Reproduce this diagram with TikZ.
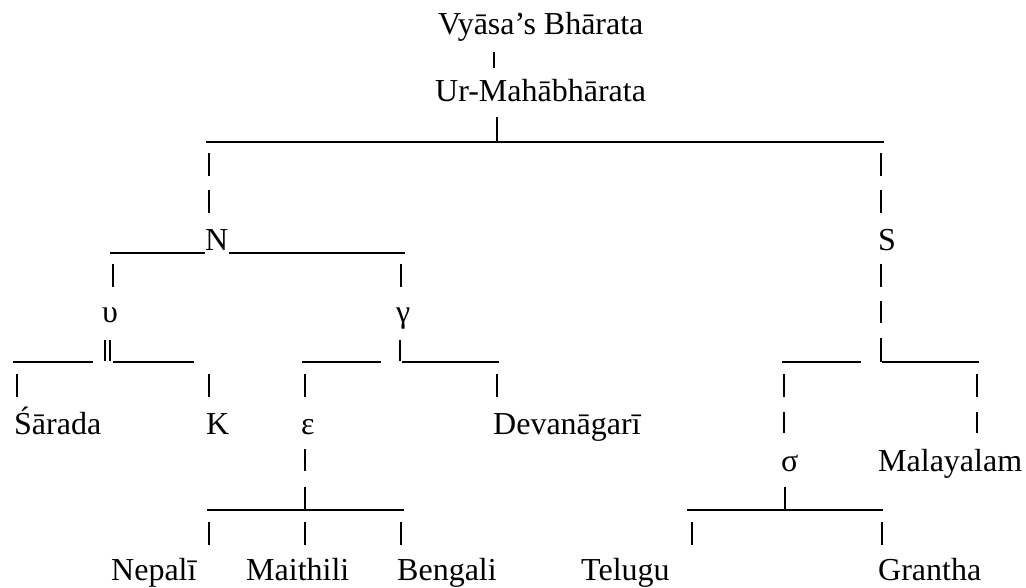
\documentclass[tikz,border=0pt]{standalone}
\usepackage{fontspec}
\setmainfont{Liberation Serif}
\begin{document}
\begin{tikzpicture}[x=1pt,y=-1pt,
  lbl/.style={font=\fontsize{32}{38}\selectfont, inner sep=0pt, anchor=base west},
  hl/.style={line width=1.5pt},
  vl/.style={line width=2pt}]
\useasboundingbox (0,0) rectangle (1026,588);
% labels
\node[lbl] (vb) at (438,35) {Vyāsa’s Bhārata};
\node[lbl] (ur) at (435,102) {Ur-Mahābhārata};
\node[lbl] (N) at (205,251) {N};
\node[lbl] (S) at (878,251) {S};
\node[lbl] (up) at (102,323) {υ};
\node[lbl] (ga) at (396,323) {γ};
\node[lbl] (sar) at (14,434) {Śārada};
\node[lbl] (K) at (206,434) {K};
\node[lbl] (eps) at (301,434) {ε};
\node[lbl] (dev) at (493,434) {Devanāgarī};
\node[lbl] (sig) at (781,471) {σ};
\node[lbl] (mal) at (878,471) {Malayalam};
\node[lbl] (nep) at (111,580) {Nepalī};
\node[lbl] (mai) at (246,580) {Maithili};
\node[lbl] (ben) at (397,580) {Bengali};
\node[lbl] (tel) at (581,580) {Telugu};
\node[lbl] (gra) at (878,580) {Grantha};
% top
\draw[vl] (494,52) -- (494,68);
\draw[vl] (497,117) -- (497,141);
\draw[hl] (206,142) -- (884,142);
\foreach \x in {209,881}{
  \draw[vl] (\x,153) -- (\x,176);
  \draw[vl] (\x,190) -- (\x,213);
}
% N row
\draw[hl] (110,253) -- (N.base west |- 0,253);
\draw[hl] (N.base east |- 0,253) -- (405,253);
\draw[vl] (113,264) -- (113,287);
\draw[vl] (401,264) -- (401,287);
% S column
\draw[vl] (881,264) -- (881,287);
\draw[vl] (881,301) -- (881,323);
\draw[vl] (881,338) -- (881,362);
% second-level branches
\draw[vl] (105,340) -- (105,361);
\draw[vl] (110,340) -- (110,361);
\draw[hl] (13,362) -- (93,362);
\draw[hl] (113,362) -- (194,362);
\draw[vl] (400,340) -- (400,361);
\draw[hl] (302,362) -- (381,362);
\draw[hl] (402,362) -- (499,362);
\draw[hl] (782,362) -- (861,362);
\draw[hl] (882,362) -- (979,362);
\foreach \x in {17,209,305,497,784,977}{
  \draw[vl] (\x,374) -- (\x,397);
}
\draw[vl] (784,412) -- (784,433);
\draw[vl] (977,412) -- (977,433);
% epsilon branch
\draw[vl] (305,449) -- (305,471);
\draw[vl] (305,487) -- (305,509);
\draw[hl] (207,510) -- (404,510);
% sigma branch
\draw[vl] (785,487) -- (785,509);
\draw[hl] (687,510) -- (883,510);
\foreach \x in {209,305,401,692,882}{
  \draw[vl] (\x,522) -- (\x,545);
}
\end{tikzpicture}
\end{document}
